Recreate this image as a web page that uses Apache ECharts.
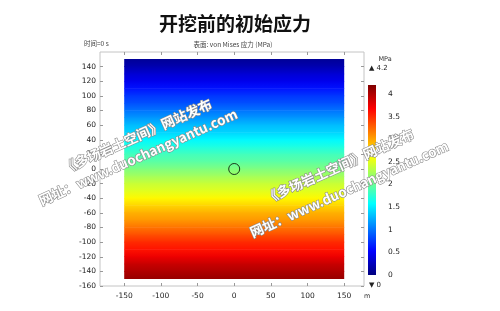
<!DOCTYPE html>
<html><head><meta charset="utf-8">
<script src="https://cdn.jsdelivr.net/npm/echarts@6/dist/echarts.min.js"></script>
<style>html,body{margin:0;padding:0;background:#fff}#c{width:500px;height:311px}</style>
</head><body><div id="c"></div>
<script>
// ---- data ----
const titleText = '开挖前的初始应力';
const timeText = '时间=0 s';
const surfaceText = '表面: von Mises 应力 (MPa)';
const xTicks = [-150, -100, -50, 0, 50, 100, 150];
const yTicks = [-160, -140, -120, -100, -80, -60, -40, -20, 0, 20, 40, 60, 80, 100, 120, 140];
const cbTicks = [0, 0.5, 1, 1.5, 2, 2.5, 3, 3.5, 4];
const stressMin = 0, stressMax = 4.2;
const domainX = [-150, 150];
// elevation (m) and von Mises stress (MPa) down the domain
const depthY = [150, 140, 130, 120, 110, 100, 90, 80, 70, 60, 50, 40, 30, 20, 10, 0, -10, -20, -30, -40, -50, -60, -70, -80, -90, -100, -110, -120, -130, -140, -150];
const stressMPa = [0.1, 0.2, 0.35, 0.45, 0.6, 0.75, 0.85, 1.0, 1.15, 1.3, 1.4, 1.55, 1.7, 1.85, 1.95, 2.1, 2.25, 2.4, 2.5, 2.65, 2.8, 2.95, 3.05, 3.2, 3.35, 3.5, 3.6, 3.75, 3.9, 4.0, 4.1];
const hole = [[0, 0, 7.5]]; // x, y, radius (m)
const watermark1 = '《多场岩土空间》网站发布';
const watermark2 = '网址：www.duochangyantu.com';

// ---- styles ----
const jet = ['#00007f', '#0000ff', '#007fff', '#00ffff', '#7fff7f', '#ffff00', '#ff7f00', '#ff0000', '#7f0000'];
function colorOf(v) {
  const t = Math.max(0, Math.min(1, (v - stressMin) / (stressMax - stressMin)));
  return echarts.color.lerp(t, jet);
}
const bands = [];
for (let i = 0; i < depthY.length - 1; i++) {
  bands.push([domainX[0], depthY[i], domainX[1], depthY[i + 1], stressMPa[i], stressMPa[i + 1]]);
}
const numFont = 'DejaVu Sans';
const cjk = 'Noto Sans CJK SC';
const axisGray = '#c4c4c4';
const labelStyle = {color: '#222', fontSize: 7.5, fontFamily: numFont};
const tickStyle = {show: true, inside: true, length: 3, lineStyle: {color: '#999'}};

const chart = echarts.init(document.getElementById('c'), null, {renderer: 'canvas'});
const hideAxis = {axisLabel: {show: false}, splitLine: {show: false}};
const noLine = {show: false, onZero: false};
chart.setOption({
  animation: false,
  backgroundColor: '#fff',
  title: [{
    text: titleText, left: 230, top: 9, textAlign: 'center',
    textStyle: {fontSize: 19, fontWeight: 'bold', color: '#111', fontFamily: cjk}
  }],
  grid: [
    {left: 100, top: 52, width: 264, height: 234, show: true, borderColor: axisGray, borderWidth: 1},
    {left: 376, top: 85, width: 8, height: 190}
  ],
  xAxis: [
    {gridIndex: 0, type: 'value', min: -183, max: 177, position: 'bottom',
     axisLine: noLine, splitLine: {show: false},
     axisTick: {...tickStyle, customValues: xTicks},
     axisLabel: {...labelStyle, margin: 6, customValues: xTicks}},
    {gridIndex: 0, type: 'value', min: -183, max: 177, position: 'top',
     axisLine: noLine, ...hideAxis,
     axisTick: {...tickStyle, customValues: xTicks}},
    {gridIndex: 1, type: 'value', min: 0, max: 1, show: false, axisLine: noLine}
  ],
  yAxis: [
    {gridIndex: 0, type: 'value', min: -160, max: 160, position: 'left',
     axisLine: noLine, splitLine: {show: false},
     axisTick: {...tickStyle, customValues: yTicks},
     axisLabel: {...labelStyle, margin: 4, customValues: yTicks}},
    {gridIndex: 0, type: 'value', min: -160, max: 160, position: 'right',
     axisLine: noLine, ...hideAxis,
     axisTick: {...tickStyle, customValues: yTicks}},
    {gridIndex: 1, type: 'value', min: stressMin, max: stressMax, position: 'right',
     axisLine: noLine, splitLine: {show: false}, axisTick: {show: false},
     axisLabel: {...labelStyle, margin: 4, customValues: cbTicks}}
  ],
  series: [
    {
      type: 'custom', xAxisIndex: 0, yAxisIndex: 0, data: bands, silent: true,
      encode: {x: [0, 2], y: [1, 3]},
      renderItem: function (params, api) {
        const p1 = api.coord([api.value(0), api.value(1)]);
        const p2 = api.coord([api.value(2), api.value(3)]);
        return {
          type: 'rect',
          shape: {x: p1[0], y: p1[1] - 0.3, width: p2[0] - p1[0], height: p2[1] - p1[1] + 0.6},
          style: {fill: new echarts.graphic.LinearGradient(0, 0, 0, 1, [
            {offset: 0, color: colorOf(api.value(4))},
            {offset: 1, color: colorOf(api.value(5))}
          ])}
        };
      }
    },
    {
      type: 'custom', xAxisIndex: 0, yAxisIndex: 0, data: hole, silent: true, z: 3,
      renderItem: function (params, api) {
        const c = api.coord([api.value(0), api.value(1)]);
        const r = api.size([api.value(2), 0])[0];
        return {type: 'circle', shape: {cx: c[0], cy: c[1], r: r},
          style: {fill: 'none', stroke: '#1a3a1a', lineWidth: 1}};
      }
    },
    {
      type: 'custom', xAxisIndex: 2, yAxisIndex: 2, data: [[stressMin, stressMax]], silent: true,
      renderItem: function (params, api) {
        const pTop = api.coord([0, api.value(1)]);
        const pBot = api.coord([1, api.value(0)]);
        const stops = jet.map((c, i) => ({offset: 1 - i / (jet.length - 1), color: c})).reverse();
        return {type: 'rect',
          shape: {x: pTop[0] - 8, y: pTop[1], width: 8, height: pBot[1] - pTop[1]},
          style: {fill: new echarts.graphic.LinearGradient(0, 0, 0, 1, stops)}};
      }
    }
  ],
  graphic: [
    {type: 'text', left: 84, top: 40, style: {text: timeText, fontSize: 6.5, fill: '#444', fontFamily: cjk}},
    {type: 'text', x: 233, y: 45, style: {text: surfaceText, fontSize: 6.5, fill: '#444', fontFamily: cjk, align: 'center', verticalAlign: 'middle'}},
    {type: 'text', x: 385, y: 59, style: {text: 'MPa', fontSize: 6.5, fill: '#333', fontFamily: numFont, align: 'center', verticalAlign: 'middle'}},
    {type: 'text', x: 369, y: 68, style: {text: '▲ 4.2', fontSize: 7, fill: '#222', fontFamily: numFont, verticalAlign: 'middle'}},
    {type: 'text', x: 369, y: 285, style: {text: '▼ 0', fontSize: 7, fill: '#222', fontFamily: numFont, verticalAlign: 'middle'}},
    {type: 'text', x: 364, y: 296, style: {text: 'm', fontSize: 6.5, fill: '#333', fontFamily: numFont, verticalAlign: 'middle'}},
    {type: 'text', x: 137, y: 136, rotation: 0.42, z: 100, style: {text: watermark1, fontSize: 13.5, fontWeight: 'bold', fill: '#fff', stroke: '#8a8a8a', lineWidth: 1.2, fontFamily: cjk, align: 'center', verticalAlign: 'middle'}},
    {type: 'text', x: 138, y: 157, rotation: 0.42, z: 100, style: {text: watermark2, fontSize: 13.5, fontWeight: 'bold', fill: '#fff', stroke: '#8a8a8a', lineWidth: 1.2, fontFamily: cjk, align: 'center', verticalAlign: 'middle'}},
    {type: 'text', x: 339, y: 166, rotation: 0.42, z: 100, style: {text: watermark1, fontSize: 13.5, fontWeight: 'bold', fill: '#fff', stroke: '#8a8a8a', lineWidth: 1.2, fontFamily: cjk, align: 'center', verticalAlign: 'middle'}},
    {type: 'text', x: 349, y: 189, rotation: 0.42, z: 100, style: {text: watermark2, fontSize: 13.5, fontWeight: 'bold', fill: '#fff', stroke: '#8a8a8a', lineWidth: 1.2, fontFamily: cjk, align: 'center', verticalAlign: 'middle'}}
  ]
});
</script></body></html>
